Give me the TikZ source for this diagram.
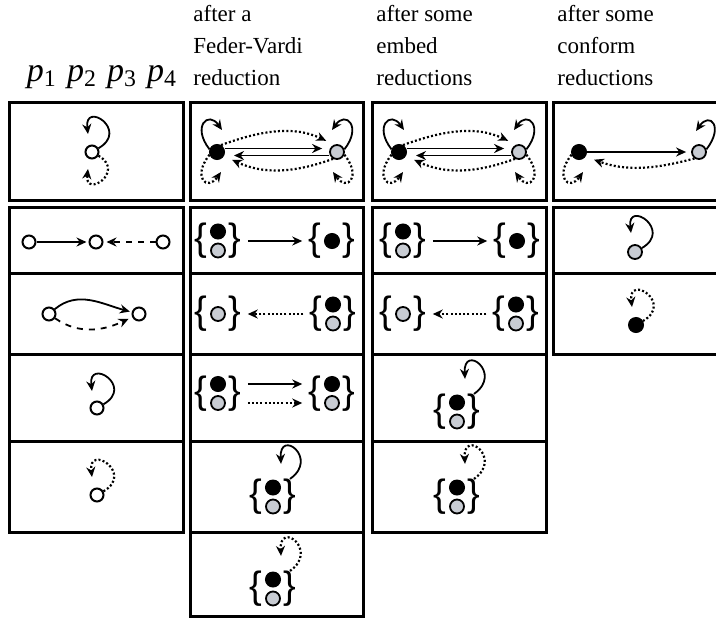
\documentclass[tikz,border=0pt]{standalone}
\usepackage{fontspec}
\setmainfont{Liberation Serif}
\newfontfamily\bracefont{Liberation Sans}
\usetikzlibrary{arrows.meta,positioning}
\definecolor{dotgray}{RGB}{200,204,211}
\tikzset{
  cell/.style={line width=1.5pt},
  wdot/.style={circle,draw,fill=white,line width=1pt,minimum size=6.5pt,inner sep=0pt},
  bdot/.style={circle,draw,fill=black,line width=0.5pt,minimum size=7.5pt,inner sep=0pt},
  gdot/.style={circle,draw,fill=dotgray,line width=0.9pt,minimum size=7pt,inner sep=0pt},
  brc/.style={inner sep=0pt,font=\bracefont\fontsize{19}{19}\selectfont},
  hdr/.style={anchor=base west,inner sep=0pt,font=\fontsize{11.5}{13}\selectfont},
  arr/.style={-{Stealth[length=5pt,width=4.5pt]},line width=0.9pt},
  dasharr/.style={arr,dash pattern=on 3pt off 3pt},
  dotarr/.style={arr,line width=1.1pt,dash pattern=on 1pt off 1.1pt},
  setarr/.style={shorten <=3pt,shorten >=3pt}
}
\begin{document}
\begin{tikzpicture}[x=0.5pt,y=0.5pt]
\useasboundingbox (0,0) rectangle (716,618);
% headings
\node[anchor=base,inner sep=0pt,font=\fontsize{17}{19}\selectfont] (hp) at (102,537)
  {\textit{p}\textsubscript{1}\hspace{0.3em}\textit{p}\textsubscript{2}\hspace{0.3em}\textit{p}\textsubscript{3}\hspace{0.3em}\textit{p}\textsubscript{4}};
\node[hdr] (h2a) at (193,597) {after a};
\node[hdr] (h2b) at (193,565) {Feder-Vardi};
\node[hdr] (h2c) at (193,533) {reduction};
\node[hdr] (h3a) at (376,597) {after some};
\node[hdr] (h3b) at (376,565) {embed};
\node[hdr] (h3c) at (376,533) {reductions};
\node[hdr] (h4a) at (557,597) {after some};
\node[hdr] (h4b) at (557,565) {conform};
\node[hdr] (h4c) at (557,533) {reductions};
% cells
\draw[cell] (9,418) rectangle (183,516);
\draw[cell] (190,418) rectangle (363,516);
\draw[cell] (372,418) rectangle (546,516);
\draw[cell] (553,418) rectangle (730,516);
\draw[cell] (9,86) rectangle (183,411);
\draw[cell] (190,2) rectangle (363,411);
\draw[cell] (372,86) rectangle (546,411);
\draw[cell] (553,264) rectangle (730,411);
\foreach \y in {345,264,177} \draw[cell] (9,\y) -- (183,\y);
\foreach \y in {345,264,177,86} \draw[cell] (190,\y) -- (363,\y);
\foreach \y in {345,264,177} \draw[cell] (372,\y) -- (546,\y);
\draw[cell] (553,345) -- (730,345);

% first column
\node[wdot] (t1) at (92,466) {};
\draw[arr] (t1.30) .. controls +(30:36) and +(97:34) .. ([shift={(-4,18)}]t1.center);
\draw[dotarr] (t1.-30) .. controls +(-30:32) and +(-97:30) .. ([shift={(-4,-17)}]t1.center);
\node[wdot] (a1) at (29,376) {};
\node[wdot] (a2) at (96,376) {};
\node[wdot] (a3) at (163,376) {};
\draw[arr,shorten >=1pt] (a1) -- (a2);
\draw[dasharr,shorten >=1.5pt] (a3) -- (a2);
\node[wdot] (b1) at (49,304) {};
\node[wdot] (b2) at (139,304) {};
\draw[arr,shorten >=1pt] (b1) to[out=40,in=165] (b2);
\draw[dasharr,shorten >=2pt] (b1) to[out=-35,in=-155] (b2);
\node[wdot] (c1) at (97,210) {};
\draw[arr] (c1.30) .. controls +(30:36) and +(97:34) .. ([shift={(-5,17)}]c1.center);
\node[wdot] (d1) at (97,123) {};
\draw[dotarr] (d1.30) .. controls +(30:36) and +(97:34) .. ([shift={(-5,18)}]d1.center);

% top row, black and gray
\foreach \n/\x in {t2/217,t3/399}{
  \node[bdot] (\n b) at (\x,466) {};
  \node[gdot] (\n g) at (\x+120,466) {};
  \draw[arr,shorten >=3.5pt] ([yshift=1.75pt]\n b.east) -- ([yshift=1.75pt]\n g.west);
  \draw[arr,shorten >=4.5pt] ([yshift=-1.75pt]\n g.west) -- ([yshift=-1.75pt]\n b.east);
  \draw[dotarr,shorten >=4.5pt] (\n b.60) to[out=20,in=155] (\n g.110);
  \draw[dotarr,shorten >=4.5pt] (\n g.240) to[out=200,in=-25] (\n b.-30);
  \draw[arr] (\n b.160) .. controls +(128:29) and +(125:24) .. ([shift={(5,22)}]\n b.center);
  \draw[dotarr] (\n b.200) .. controls +(-128:29) and +(-125:24) .. ([shift={(4,-20)}]\n b.center);
  \draw[arr] (\n g.20) .. controls +(52:29) and +(55:24) .. ([shift={(-5,22)}]\n g.center);
  \draw[dotarr] (\n g.-20) .. controls +(-52:29) and +(-55:24) .. ([shift={(-4,-20)}]\n g.center);
}
\node[bdot] (t4b) at (579,466) {};
\node[gdot] (t4g) at (699,466) {};
\draw[arr,shorten >=2.5pt] (t4b) -- (t4g);
\draw[dotarr,shorten >=4.5pt] (t4g.235) to[out=195,in=-20] (t4b.-35);
\draw[dotarr] (t4b.200) .. controls +(-128:29) and +(-125:24) .. ([shift={(4,-20)}]t4b.center);
\draw[arr] (t4g.20) .. controls +(52:29) and +(55:24) .. ([shift={(-3,21)}]t4g.center);

% sets
\foreach \n/\x/\y in {p2a/218/377,p2b/333/304,p2c/218/224.5,p2d/332/224.5,p2e/273/121,p2f/273/29,
                      p3a/403/377,p3b/516/304,p3c/457/206,p3d/457/121}{
  \node[bdot] (\n k) at (\x,\y+9.5) {};
  \node[gdot] (\n g) at (\x,\y-9.5) {};
  \node[brc] (\n l) at (\x-17,\y) {\{};
  \node[brc] (\n r) at (\x+17,\y) {\}};
}
\foreach \n/\x/\y/\s in {s2a/332/377/bdot,s2b/218/304/gdot,s3a/517/377/bdot,s3b/403/304/gdot}{
  \node[\s] (\n d) at (\x,\y) {};
  \node[brc] (\n l) at (\x-17,\y) {\{};
  \node[brc] (\n r) at (\x+17,\y) {\}};
}
\draw[arr,setarr] (p2ar.east) -- (s2al.west);
\draw[dotarr,setarr] (p2bl.west) -- (s2br.east);
\draw[arr,setarr] (p2cr.east |- p2ck) -- (p2dl.west |- p2dk);
\draw[dotarr,setarr] (p2cr.east |- p2cg) -- (p2dl.west |- p2dg);
\draw[arr] (p2er.north) .. controls +(35:36) and +(93:36) .. ([shift={(-9,15)}]p2er.north);
\draw[dotarr] (p2fr.north) .. controls +(35:36) and +(93:36) .. ([shift={(-9,15)}]p2fr.north);
\draw[arr,setarr] (p3ar.east) -- (s3al.west);
\draw[dotarr,setarr] (p3bl.west) -- (s3br.east);
\draw[arr] (p3cr.north) .. controls +(35:36) and +(93:36) .. ([shift={(-9,15)}]p3cr.north);
\draw[dotarr] (p3dr.north) .. controls +(35:36) and +(93:36) .. ([shift={(-9,15)}]p3dr.north);

% last column
\node[gdot] (u1) at (635,366) {};
\draw[arr] (u1.30) .. controls +(30:36) and +(97:34) .. ([shift={(-4,19)}]u1.center);
\node[bdot] (u2) at (636,293) {};
\draw[dotarr] (u2.30) .. controls +(30:36) and +(97:34) .. ([shift={(-4,18)}]u2.center);
\end{tikzpicture}
\end{document}
